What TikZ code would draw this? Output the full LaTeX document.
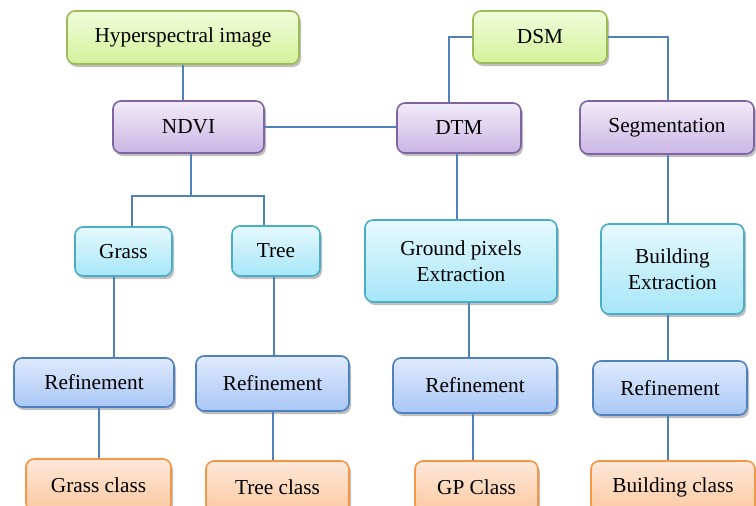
\documentclass[tikz,border=0pt]{standalone}
\usepackage{fontspec}
\setmainfont{Liberation Serif}
\usetikzlibrary{shadows}
\definecolor{gborder}{HTML}{9BBB59}
\definecolor{gtop}{HTML}{F2FCDC}
\definecolor{gbot}{HTML}{D3F29A}
\definecolor{pborder}{HTML}{8064A2}
\definecolor{ptop}{HTML}{F1EBF8}
\definecolor{pbot}{HTML}{CBB6E4}
\definecolor{cborder}{HTML}{4BACC6}
\definecolor{ctop}{HTML}{E6F9FE}
\definecolor{cbot}{HTML}{A6E6F8}
\definecolor{bborder}{HTML}{4F81BD}
\definecolor{btop}{HTML}{DFEAFC}
\definecolor{bbot}{HTML}{A9C7F6}
\definecolor{oborder}{HTML}{F79646}
\definecolor{otop}{HTML}{FDE8D9}
\definecolor{obot}{HTML}{FCC9A1}
\definecolor{conn}{HTML}{4F81BD}
\tikzset{
  box/.style={rounded corners=8pt, line width=1.6pt, inner sep=0pt, align=center,
    font=\fontsize{21.3}{26}\selectfont,
    drop shadow={shadow xshift=2pt, shadow yshift=-3pt, fill=black!45, opacity=0.55}},
  greenbox/.style={box, draw=gborder, top color=gtop, bottom color=gbot},
  purplebox/.style={box, draw=pborder, top color=ptop, bottom color=pbot},
  cyanbox/.style={box, draw=cborder, top color=ctop, bottom color=cbot},
  bluebox/.style={box, draw=bborder, top color=btop, bottom color=bbot},
  orangebox/.style={box, draw=oborder, top color=otop, bottom color=obot},
  wire/.style={draw=conn, line width=1.5pt},
  sz/.style 2 args={minimum width=#1pt, minimum height=#2pt}
}
\begin{document}
\begin{tikzpicture}[x=1pt,y=-1pt]
\useasboundingbox (0,0) rectangle (756,506);
\clip (0,0) rectangle (756,506);
\fill[white] (0,0) rectangle (756,506);
% nodes
\node[greenbox, sz={232}{53}] (hsi) at (183,37.5) {Hyperspectral image};
\node[greenbox, sz={134}{52}] (dsm) at (540,37) {DSM};
\node[purplebox, sz={151}{52}] (ndvi) at (188.5,127) {NDVI};
\node[purplebox, sz={124}{50}] (dtm) at (459,128) {DTM};
\node[purplebox, sz={174}{53}] (seg) at (667,127.5) {Segmentation};
\node[cyanbox, sz={97}{49}] (grass) at (123.5,251.5) {Grass};
\node[cyanbox, sz={88}{50}] (tree) at (276,251) {Tree};
\node[cyanbox, sz={192}{82}] (gpe) at (461,261) {Ground pixels\\Extraction};
\node[cyanbox, sz={143}{90}] (bext) at (672.5,269) {Building\\Extraction};
\node[bluebox, sz={160}{49}] (ref1) at (94,382.5) {Refinement};
\node[bluebox, sz={153}{55}] (ref2) at (272.5,383.5) {Refinement};
\node[bluebox, sz={164}{55}] (ref3) at (475,385.5) {Refinement};
\node[bluebox, sz={154}{54}] (ref4) at (670,388) {Refinement};
\node[orangebox, sz={145}{52}] (gc) at (98.5,485) {Grass class};
\node[orangebox, sz={143}{52}] (tc) at (277.5,487) {Tree class};
\node[orangebox, sz={123}{52}] (gpc) at (476.5,487) {GP Class};
\node[orangebox, sz={164}{52}] (bc) at (673,487) {Building class};
\coordinate (br) at (188.5,196);
% connectors
\draw[wire] (hsi.south) -- (hsi.south |- ndvi.north);
\draw[wire] (ndvi.east) -- (ndvi.east -| dtm.west);
\draw[wire] (dsm.west) -| ([xshift=-10pt]dtm.north);
\draw[wire] (dsm.east) -| ([xshift=1pt]seg.north);
\draw[wire] ([xshift=2.5pt]ndvi.south) -- ([xshift=2.5pt]ndvi.south |- br);
\draw[wire] ([xshift=8.5pt]grass.north) |- (br) -| ([xshift=-12pt]tree.north);
\draw[wire] ([xshift=-2pt]dtm.south) -- ([xshift=-2pt]dtm.south |- gpe.north);
\draw[wire] ([xshift=1pt]seg.south) -- ([xshift=1pt]seg.south |- bext.north);
\draw[wire] ([xshift=-9.5pt]grass.south) -- ([xshift=-9.5pt]grass.south |- ref1.north);
\draw[wire] ([xshift=-2pt]tree.south) -- ([xshift=-2pt]tree.south |- ref2.north);
\draw[wire] ([xshift=8pt]gpe.south) -- ([xshift=8pt]gpe.south |- ref3.north);
\draw[wire] ([xshift=-4.5pt]bext.south) -- ([xshift=-4.5pt]bext.south |- ref4.north);
\draw[wire] ([xshift=5pt]ref1.south) -- ([xshift=5pt]ref1.south |- gc.north);
\draw[wire] ([xshift=0.5pt]ref2.south) -- ([xshift=0.5pt]ref2.south |- tc.north);
\draw[wire] ([xshift=-2pt]ref3.south) -- ([xshift=-2pt]ref3.south |- gpc.north);
\draw[wire] ([xshift=-2pt]ref4.south) -- ([xshift=-2pt]ref4.south |- bc.north);
\end{tikzpicture}
\end{document}
